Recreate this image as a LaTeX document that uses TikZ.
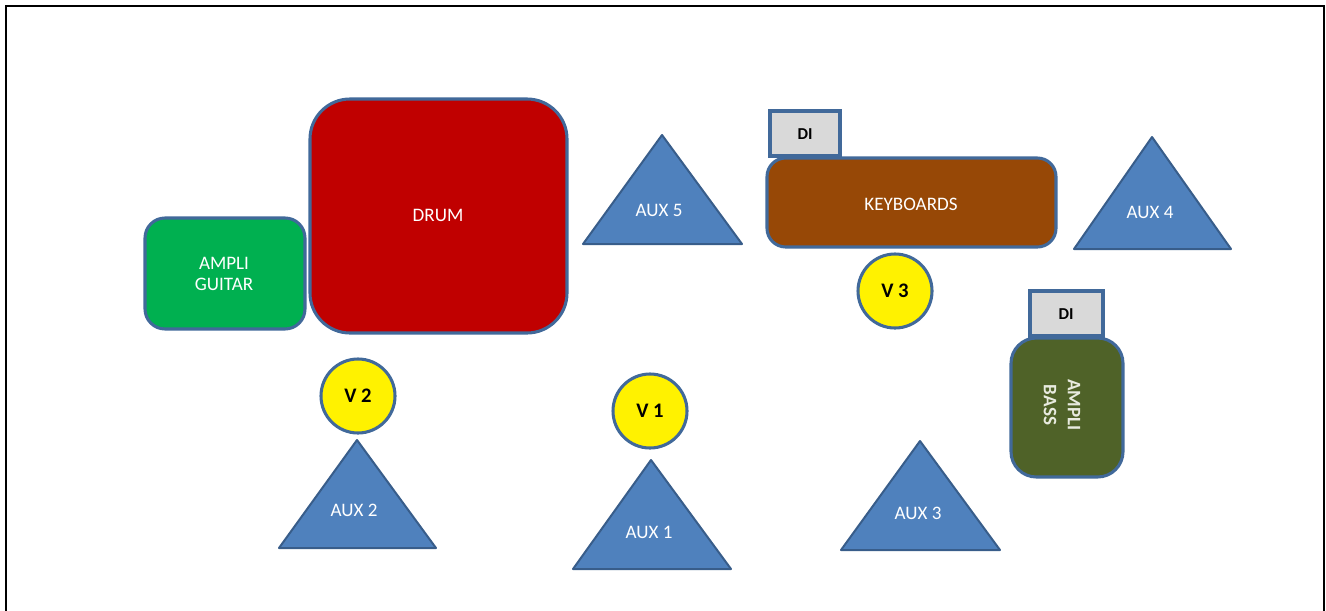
\documentclass[tikz,border=0pt]{standalone}
\usepackage{fontspec}
\setmainfont{Carlito}
\usetikzlibrary{shapes.geometric}
\definecolor{bord}{HTML}{41699A}
\definecolor{tribord}{HTML}{385D8A}
\definecolor{trifill}{HTML}{4F81BD}
\definecolor{drumred}{HTML}{C00000}
\definecolor{guitgreen}{HTML}{00B050}
\definecolor{keybrown}{HTML}{974806}
\definecolor{bassolive}{HTML}{4F6228}
\definecolor{digray}{HTML}{D9D9D9}
\definecolor{basstext}{HTML}{E8EBDF}
\tikzset{
  lbl/.style={text=white,font=\fontsize{14.3}{16}\selectfont,align=center},
  boldlbl/.style={text=black,font=\bfseries\fontsize{12.5}{14}\selectfont},
  rbox/.style={draw=bord,line width=2.3pt},
  tri/.style={draw=tribord,fill=trifill,line width=1.5pt,line join=round},
  vox/.style={circle,draw=bord,fill=yellow,line width=2.3pt,minimum size=55.5pt,inner sep=0pt,text=black,font=\bfseries\fontsize{15.5}{17}\selectfont},
  dibox/.style={draw=bord,fill=digray,line width=2.3pt}
}
\begin{document}
\begin{tikzpicture}[x=0.75pt,y=-0.75pt]
\useasboundingbox (0,0) rectangle (1326,610);
% frame
\draw[line width=2.2pt] (6,630) -- (6,6) -- (1324,6) -- (1324,630);
% drum
\draw[rbox,fill=drumred,rounded corners=30pt] (310,99) rectangle (567,333);
\node[lbl] (drum) at (438,215) {DRUM};
% ampli guitar
\draw[rbox,fill=guitgreen,rounded corners=15pt] (145,218) rectangle (305,329);
\node[lbl] (guitar) at (224,274) {AMPLI\\GUITAR};
% keyboards
\draw[dibox] (770,111) rectangle (840,156);
\node[boldlbl] (di1) at (805,134) {DI};
\draw[rbox,fill=keybrown,rounded corners=14pt] (767,158) rectangle (1056,247);
\node[lbl] (keys) at (911,204) {KEYBOARDS};
% bass
\draw[dibox] (1030,291) rectangle (1103,336);
\node[boldlbl] (di2) at (1066,314) {DI};
\draw[rbox,fill=bassolive,rounded corners=19pt] (1011,338) rectangle (1123,477);
\node[lbl,rotate=-90,text=basstext,font=\bfseries\fontsize{14.3}{18}\selectfont] (bass) at (1062,405) {AMPLI\\BASS};
% triangles
\draw[tri] (662,135) -- (742,244) -- (583,244) -- cycle;
\node[lbl] (aux5) at (659,210) {AUX 5};
\draw[tri] (1152,137) -- (1231,249) -- (1074,249) -- cycle;
\node[lbl] (aux4) at (1150,212) {AUX 4};
\draw[tri] (357,440) -- (436,548) -- (279,548) -- cycle;
\node[lbl] (aux2) at (354,510) {AUX 2};
\draw[tri] (651,460) -- (731,569) -- (573,569) -- cycle;
\node[lbl] (aux1) at (649,532) {AUX 1};
\draw[tri] (920,441) -- (1000,550) -- (841,550) -- cycle;
\node[lbl] (aux3) at (918,513) {AUX 3};
% vocals
\node[vox] (v3) at (895,291) {V 3};
\node[vox] (v2) at (358,396) {V 2};
\node[vox] (v1) at (650,411) {V 1};
\end{tikzpicture}
\end{document}
